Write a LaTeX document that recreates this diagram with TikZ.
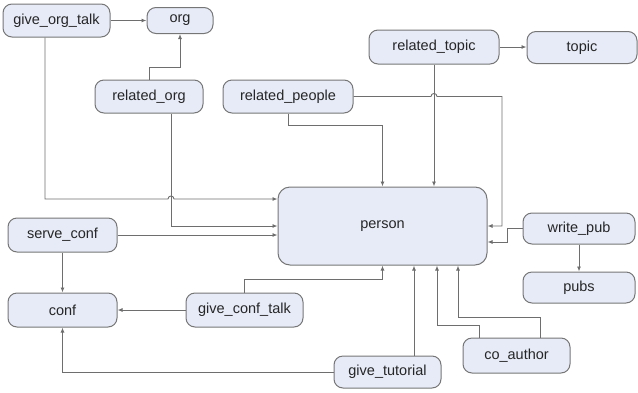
\documentclass[tikz,border=0pt]{standalone}
\usepackage{fontspec}
\setmainfont{Liberation Sans}
\usetikzlibrary{arrows.meta,calc}
\definecolor{boxfill}{HTML}{E6EBF7}
\definecolor{boxline}{HTML}{767676}
\definecolor{linec}{HTML}{6E6E6E}
\definecolor{txt}{HTML}{262626}
\begin{document}
\begin{tikzpicture}[x=1pt,y=-1pt,
  box/.style={draw=boxline, fill=boxfill, rounded corners=9pt, line width=1pt,
    inner sep=0pt, text=txt, font=\fontsize{14.5}{16}\selectfont},
  link/.style={draw=linec, line width=0.9pt},
  arr/.style={link, -{Latex[length=5pt,width=4pt]}}]
\useasboundingbox (0,0) rectangle (638,392);

\node[box, minimum width=107pt, minimum height=33pt] (got) at (56.5,20.5) {give\_org\_talk};
\node[box, minimum width=66pt, minimum height=26pt] (org) at (180,20.5) {org};
\node[box, minimum width=108pt, minimum height=33pt] (rorg) at (149,96.5) {related\_org};
\node[box, minimum width=130pt, minimum height=33pt] (rp) at (288,96.5) {related\_people};
\node[box, minimum width=130pt, minimum height=34pt] (rt) at (434,47) {related\_topic};
\node[box, minimum width=110pt, minimum height=32pt] (topic) at (582,47.5) {topic};
\node[box, minimum width=209pt, minimum height=78pt, rounded corners=12pt] (person) at (382.5,226) {person};
\node[box, minimum width=109pt, minimum height=34pt] (sconf) at (62.5,235) {serve\_conf};
\node[box, minimum width=109pt, minimum height=34pt] (conf) at (62.5,310) {conf};
\node[box, minimum width=117pt, minimum height=34pt] (gct) at (244.5,310) {give\_conf\_talk};
\node[box, minimum width=112pt, minimum height=31pt] (wp) at (579,228.5) {write\_pub};
\node[box, minimum width=112pt, minimum height=31pt] (pubs) at (579,287.5) {pubs};
\node[box, minimum width=107pt, minimum height=35pt] (coa) at (516.5,355.5) {co\_author};
\node[box, minimum width=107pt, minimum height=32pt] (gtut) at (387.5,372) {give\_tutorial};

% org links
\draw[arr] (got.east) -- (got.east -| org.west);
\draw[arr] (rorg.north) -- ++(0,-12) -| (org.south);
% topic link
\draw[arr] (rt.east) -- (rt.east -| topic.west);
% give_org_talk -> person (with jump)
\draw[arr] ([xshift=-11.5pt]got.south) -- ([xshift=-11.5pt]got.south |- 0,199)
  -- (168,199) .. controls (168,195) and (174,195) .. (174,199)
  -- (person.west |- 0,199);
% related_org -> person
\draw[arr] ([xshift=22pt]rorg.south) |- (person.west);
% serve_conf
\draw[arr] (sconf.east) -- (sconf.east -| person.west);
\draw[arr] (sconf.south) -- (conf.north);
% give_conf_talk
\draw[arr] (gct.west) -- (conf.east);
\draw[arr] (gct.north) |- ($(person.south)+(0,14)$) -- (person.south);
% give_tutorial
\draw[arr] (gtut.west) -| (conf.south);
\draw[arr] ([xshift=26.5pt]gtut.north) -- ([xshift=26.5pt]gtut.north |- person.south);
% co_author
\draw[arr] ([xshift=-37.5pt]coa.north) -- ++(0,-12) -| ([xshift=54.5pt]person.south);
\draw[arr] ([xshift=23.5pt]coa.north) -- ++(0,-20) -| ([xshift=75.5pt]person.south);
% write_pub
\draw[arr] (wp.west) -- ++(-15,0) |- ([yshift=-16pt]person.east);
\draw[arr] (wp.south) -- (pubs.north);
% related_people
\draw[arr] (rp.east) -- (rp.east -| 431,0) .. controls (431,92.5) and (437,92.5) .. (437,96.5)
  -- (502,96.5) |- (person.east);
\draw[arr] (rp.south) |- ($(person.north)+(0,-61)$) -- (person.north);
% related_topic
\draw[arr] (rt.south) -- (rt.south |- person.north);
\end{tikzpicture}
\end{document}
